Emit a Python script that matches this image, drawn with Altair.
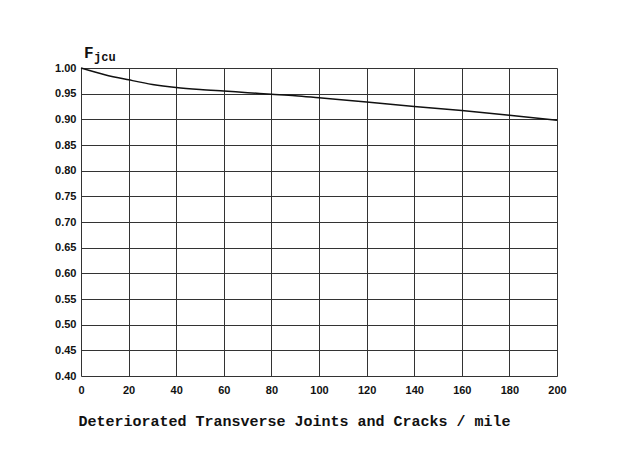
import altair as alt
import pandas as pd

x_vals = [0, 10, 20, 30, 40, 50, 60, 70, 80, 90, 100, 120, 140, 160, 180, 200]
f_vals = [1.000, 0.987, 0.977, 0.968, 0.962, 0.958, 0.955, 0.952, 0.949, 0.946, 0.942, 0.934, 0.925, 0.917, 0.908, 0.898]
x_ticks = [0, 20, 40, 60, 80, 100, 120, 140, 160, 180, 200]
y_ticks = [0.40, 0.45, 0.50, 0.55, 0.60, 0.65, 0.70, 0.75, 0.80, 0.85, 0.90, 0.95, 1.00]

df = pd.DataFrame({"x": x_vals, "f": f_vals})

x_axis = alt.Axis(values=x_ticks, grid=True, gridColor="#333", gridWidth=1,
                  ticks=False, domain=False, labelFont="Liberation Sans", labelFontWeight="bold",
                  labelFontSize=11, labelColor="#111", labelPadding=8,
                  title="Deteriorated Transverse Joints and Cracks / mile",
                  titleFont="Liberation Mono", titleFontSize=15, titleFontWeight="bold",
                  titleColor="#111", titleX=213, titleY=44, titleAlign="center",
                  titleBaseline="middle", labelFlush=False)
y_axis = alt.Axis(values=y_ticks, format=".2f", grid=True, gridColor="#333", gridWidth=1,
                  ticks=False, domain=False, labelFont="Liberation Sans", labelFontWeight="bold",
                  labelFontSize=11, labelColor="#111", labelPadding=5, title=None,
                  labelFlush=False)

line = alt.Chart(df).mark_line(color="#111", strokeWidth=1.5, interpolate="monotone").encode(
    x=alt.X("x:Q", scale=alt.Scale(domain=[0, 200], nice=False), axis=x_axis),
    y=alt.Y("f:Q", scale=alt.Scale(domain=[0.40, 1.00], nice=False, zero=False), axis=y_axis),
)

ylab_F = alt.Chart(pd.DataFrame({"t": ["F"]})).mark_text(
    font="Liberation Mono", fontSize=16, fontWeight="bold", color="#111", align="left", baseline="alphabetic"
).encode(x=alt.value(3), y=alt.value(-10), text="t:N")
ylab_sub = alt.Chart(pd.DataFrame({"t": ["jcu"]})).mark_text(
    font="Liberation Mono", fontSize=12, fontWeight="bold", color="#111", align="left", baseline="alphabetic"
).encode(x=alt.value(13), y=alt.value(-7), text="t:N")

chart = alt.layer(line, ylab_F, ylab_sub).properties(
    width=476, height=308,
    autosize=alt.AutoSizeParams(type="none"),
    padding={"left": 73, "top": 60, "right": 50, "bottom": 80},
).configure_view(stroke="#111", strokeWidth=1.2).configure(background="white")

chart.save("out.html", embed_options={"renderer": "svg", "actions": False})
